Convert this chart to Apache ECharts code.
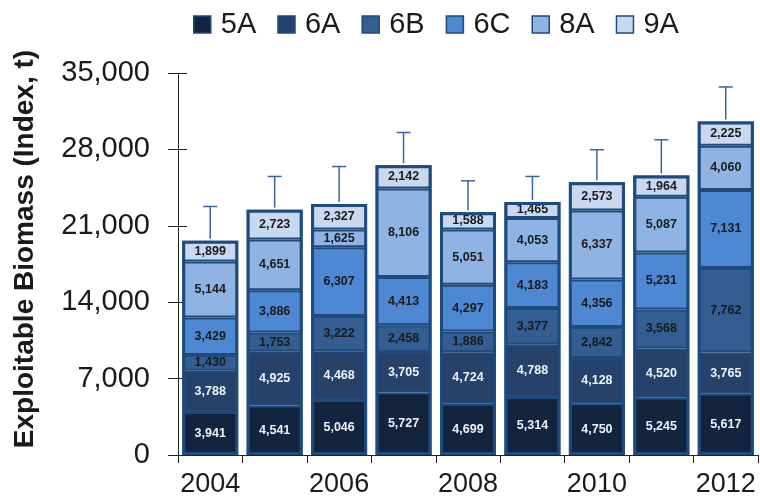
<!DOCTYPE html>
<html>
<head>
<meta charset="utf-8">
<script src="https://cdn.jsdelivr.net/npm/echarts@6/dist/echarts.min.js"></script>
<style>html,body{margin:0;padding:0;background:#fff}#c{width:760px;height:504px}</style>
</head>
<body>
<div id="c"></div>
<script>
const years = ['2004','2005','2006','2007','2008','2009','2010','2011','2012'];
const s5A = [3941, 4541, 5046, 5727, 4699, 5314, 4750, 5245, 5617];
const s6A = [3788, 4925, 4468, 3705, 4724, 4788, 4128, 4520, 3765];
const s6B = [1430, 1753, 3222, 2458, 1886, 3377, 2842, 3568, 7762];
const s6C = [3429, 3886, 6307, 4413, 4297, 4183, 4356, 5231, 7131];
const s8A = [5144, 4651, 1625, 8106, 5051, 4053, 6337, 5087, 4060];
const s9A = [1899, 2723, 2327, 2142, 1588, 1465, 2573, 1964, 2225];
const upper = [22770, 25520, 26430, 29550, 25120, 25520, 27970, 28880, 33720];
const yTicks = [0, 7000, 14000, 21000, 28000, 35000];

const seriesDefs = [
  {name:'5A', data:s5A, color:'#13243f', text:'#eef2f8'},
  {name:'6A', data:s6A, color:'#26426a', text:'#eef2f8'},
  {name:'6B', data:s6B, color:'#345d92', text:'#1a1a1a'},
  {name:'6C', data:s6C, color:'#4f88d2', text:'#1a1a1a'},
  {name:'8A', data:s8A, color:'#8fb3e2', text:'#1a1a1a'},
  {name:'9A', data:s9A, color:'#c8d9ef', text:'#1a1a1a'}
];
const totals = years.map((_, i) => seriesDefs.reduce((a, s) => a + s.data[i], 0));
const fmt = v => v.toLocaleString('en-US');
const FONT = 'Liberation Sans, Arial, sans-serif';
const BORDER = '#1e4a7e';
const BW = 56;

const series = seriesDefs.map(s => ({
  name: s.name, type: 'bar', stack: 'tot', barWidth: BW,
  data: s.data,
  itemStyle: {color: s.color, borderColor: BORDER, borderWidth: 2},
  label: {show: true, position: 'inside', formatter: p => fmt(p.value),
    color: s.text, fontSize: 12.5, fontWeight: 'bold', fontFamily: FONT},
  emphasis: {disabled: true}
}));
series.push({
  name: 'outline', type: 'bar', barWidth: BW, barGap: '-100%', z: 3,
  data: totals, silent: true,
  itemStyle: {color: 'rgba(0,0,0,0)', borderColor: BORDER, borderWidth: 3},
  label: {show: false}, emphasis: {disabled: true}
});
series.push({
  name: 'err', type: 'custom', z: 4, silent: true,
  data: years.map((_, i) => [i, totals[i], upper[i]]),
  renderItem: (params, api) => {
    const lo = api.coord([api.value(0), api.value(1)]);
    const hi = api.coord([api.value(0), api.value(2)]);
    const st = {stroke: '#3a6598', lineWidth: 1.5};
    return {type: 'group', children: [
      {type: 'line', shape: {x1: lo[0], y1: lo[1] - 2, x2: hi[0], y2: hi[1]}, style: st},
      {type: 'line', shape: {x1: hi[0] - 7, y1: hi[1], x2: hi[0] + 7, y2: hi[1]}, style: st}
    ]};
  }
});

const yMin = yTicks[0], yMax = yTicks[yTicks.length - 1], yInt = yTicks[1] - yTicks[0];
const chart = echarts.init(document.getElementById('c'));
chart.setOption({
  animation: false,
  backgroundColor: '#fff',
  legend: {
    data: seriesDefs.map(s => s.name), top: 5, left: 188, icon: 'rect',
    itemWidth: 17, itemHeight: 17, itemGap: 21,
    textStyle: {fontSize: 29, fontFamily: FONT, color: '#1a1a1a', padding: [0, 0, 0, 5]},
    itemStyle: {borderColor: BORDER, borderWidth: 1.5}
  },
  grid: {left: 178, right: 2, top: 73, bottom: 49},
  xAxis: {
    type: 'category', data: years,
    axisLine: {lineStyle: {color: '#222', width: 1}},
    axisTick: {show: true, length: 8, lineStyle: {color: '#222'}, interval: 0},
    axisLabel: {interval: 1, fontSize: 27, fontFamily: FONT, color: '#1a1a1a', margin: 16}
  },
  yAxis: [{
    type: 'value', min: yMin, max: yMax, interval: yInt,
    name: 'Exploitable Biomass (Index, t)', nameLocation: 'middle', nameGap: 139,
    nameTextStyle: {fontSize: 28, fontWeight: 'bold', fontFamily: FONT, color: '#1a1a1a', padding: [0, 0, 0, 30]},
    axisLine: {show: true, lineStyle: {color: '#222', width: 1}},
    axisTick: {show: true, length: 10, lineStyle: {color: '#222'}},
    splitLine: {show: false},
    axisLabel: {fontSize: 29, fontFamily: FONT, color: '#1a1a1a', margin: 28, formatter: v => fmt(v)}
  }, {
    type: 'value', min: yMin, max: yMax, interval: yInt, position: 'left',
    axisLine: {show: false},
    axisTick: {show: true, inside: true, length: 9, lineStyle: {color: '#222'}},
    axisLabel: {show: false}, splitLine: {show: false}
  }],
  series: series
});
</script>
</body>
</html>
